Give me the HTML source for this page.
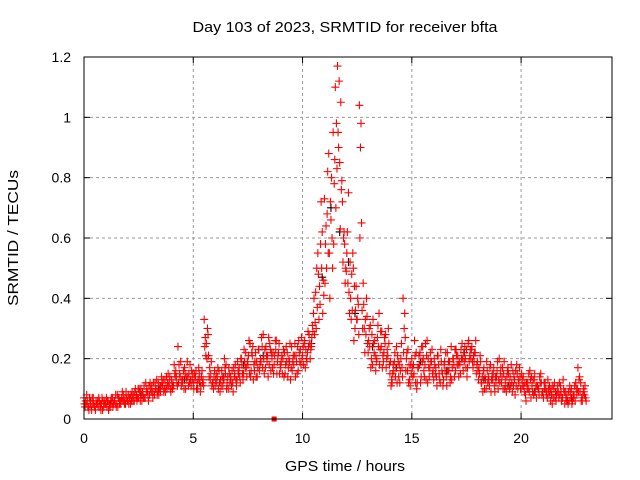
<!DOCTYPE html>
<html><head><meta charset="utf-8"><style>
html,body{margin:0;padding:0;background:#fff;}
svg{display:block;font-family:"Liberation Sans",sans-serif;}
</style></head><body>
<svg id="chart" width="640" height="480" viewBox="0 0 640 480" xmlns="http://www.w3.org/2000/svg">
<text x="345" y="32" font-size="15" text-anchor="middle" textLength="305" lengthAdjust="spacingAndGlyphs">Day 103 of 2023, SRMTID for receiver bfta</text>
<text transform="translate(18,238) rotate(-90)" font-size="15" text-anchor="middle" textLength="136" lengthAdjust="spacingAndGlyphs">SRMTID / TECUs</text>
<text x="345" y="471" font-size="15" text-anchor="middle" textLength="120" lengthAdjust="spacingAndGlyphs">GPS time / hours</text>
<g id="grid"></g>
<g id="marks"></g>
<rect x="84" y="57" width="528" height="362" fill="none" stroke="#000" stroke-width="1"/>
<g id="ticks"></g>
</svg>
<script>
const xTicks=[0,5,10,15,20];
const yTicks=[0,0.2,0.4,0.6,0.8,1,1.2];
const yTickLabels=["0","0.2","0.4","0.6","0.8","1","1.2"];
const times=[];
const ra=[.07,.05,.04,.06,.05,.04,.05,.06,.05,.04,
.05,.06,.04,.07,.06,.05,.07,.06,.08,.05,
.06,.07,.09,.06,.08,.07,.10,.08,.07,.09,
.08,.11,.09,.10,.12,.09,.11,.13,.10,.12,
.13,.11,.16,.24,.14,.12,.17,.13,.15,.11,
.12,.14,.10,.13,.16,.33,.25,.21,.15,.12,
.11,.14,.12,.16,.13,.18,.10,.14,.12,.15,
.13,.17,.20,.15,.22,.18,.25,.21,.16,.19,
.23,.19,.28,.17,.21,.25,.20,.18,.26,.22,
.17,.20,.15,.22,.19,.24,.18,.21,.16,.23,
.21,.26,.19,.28,.24,.35,.42,.55,.38,.62,
.73,.50,.88,.66,.95,1.10,1.17,.85,.79,.62,
.49,.75,.40,.55,.30,.33,1.04,.65,.38,.28,
.22,.31,.18,.26,.20,.35,.24,.19,.28,.21,
.15,.12,.19,.24,.14,.20,.40,.27,.16,.13,
.20,.15,.22,.17,.12,.24,.18,.26,.14,.19,
.13,.17,.21,.12,.15,.19,.11,.16,.24,.20,
.16,.21,.18,.25,.19,.23,.26,.20,.17,.22,
.19,.15,.12,.17,.10,.14,.18,.13,.09,.16,
.20,.12,.15,.11,.17,.14,.09,.13,.18,.12,
.10,.14,.08,.12,.16,.11,.13,.07,.10,.15,
.09,.12,.07,.11,.08,.10,.06,.09,.11,.07,
.05,.08,.06,.10,.07,.12,.17,.09,.06,.08];
const rb=[.04,.06,.07,.03,.05,.06,.04,.05,.03,.06,
.04,.05,.07,.05,.08,.04,.06,.09,.05,.07,
.05,.08,.06,.10,.07,.09,.06,.11,.09,.06,
.10,.07,.12,.08,.10,.14,.09,.11,.15,.10,
.10,.15,.12,.18,.11,.16,.10,.14,.18,.13,
.15,.10,.17,.11,.13,.27,.30,.17,.11,.14,
.15,.10,.13,.11,.17,.12,.15,.11,.17,.13,
.16,.12,.15,.19,.14,.26,.16,.13,.22,.17,
.18,.24,.15,.21,.27,.16,.22,.26,.19,.15,
.21,.14,.24,.17,.13,.19,.25,.15,.22,.27,
.18,.23,.29,.20,.31,.28,.50,.33,.72,.46,
.58,.82,.40,.60,.78,.98,.90,1.05,.52,.45,
.62,.35,.48,.26,.44,.38,.90,.30,.22,.34,
.30,.20,.25,.16,.31,.23,.17,.27,.20,.25,
.11,.18,.14,.21,.12,.17,.30,.20,.12,.18,
.14,.21,.12,.18,.24,.16,.13,.20,.22,.15,
.18,.11,.15,.19,.13,.22,.16,.12,.17,.14,
.21,.14,.23,.16,.20,.17,.21,.24,.19,.15,
.13,.19,.09,.14,.16,.11,.13,.17,.12,.10,
.15,.17,.10,.14,.12,.18,.11,.16,.10,.14,
.13,.09,.12,.15,.07,.13,.09,.11,.14,.08,
.12,.08,.10,.06,.11,.07,.09,.12,.06,.10,
.07,.05,.09,.06,.11,.08,.13,.06,.10,.07];
const rc=[.05,.08,.03,.04,.07,.03,.06,.04,.07,.05,
.07,.03,.06,.04,.05,.08,.05,.07,.06,.09,
.08,.05,.07,.09,.06,.10,.08,.07,.12,.08,
.12,.09,.08,.13,.08,.11,.13,.09,.12,.14,
.11,.18,.14,.12,.19,.13,.15,.19,.12,.16,
.10,.16,.13,.09,.12,.24,.20,.14,.19,.10,
.13,.17,.09,.14,.20,.10,.17,.13,.09,.18,
.19,.14,.18,.23,.17,.21,.14,.24,.19,.14,
.16,.27,.20,.24,.14,.23,.17,.21,.15,.25,
.19,.23,.18,.14,.25,.16,.21,.19,.26,.18,
.24,.17,.22,.25,.27,.40,.30,.48,.58,.35,
.45,.68,.55,.80,.58,.70,.95,.63,.72,.58,
.55,.42,.33,.50,.36,.40,.60,.36,.30,.40,
.26,.17,.33,.21,.27,.18,.29,.22,.17,.30,
.19,.15,.22,.12,.18,.25,.22,.16,.23,.11,
.17,.26,.10,.21,.14,.20,.25,.12,.17,.23,
.20,.14,.18,.23,.11,.16,.22,.19,.13,.18,
.23,.18,.15,.20,.24,.14,.19,.23,.21,.26,
.16,.21,.14,.10,.19,.13,.09,.15,.14,.19,
.12,.14,.19,.09,.15,.11,.16,.08,.15,.17,
.15,.11,.06,.10,.13,.09,.15,.11,.08,.12,
.07,.10,.13,.09,.05,.12,.08,.07,.09,.13,
.09,.06,.11,.05,.08,.10,.09,.12,.08,.11];
const rd=[.06,.04,.05,.07,.04,.05,.07,.03,.06,.05,
.06,.04,.05,.06,.04,.07,.05,.06,.07,.06,
.07,.06,.08,.07,.10,.06,.09,.07,.10,.11,
.09,.12,.10,.09,.11,.12,.10,.14,.11,.09,
.12,.14,.11,.15,.13,.10,.14,.11,.13,.15,
.13,.12,.15,.14,.11,.21,.28,.13,.12,.16,
.12,.16,.11,.13,.15,.14,.12,.16,.14,.11,
.15,.20,.13,.17,.19,.15,.22,.18,.14,.23,
.20,.17,.23,.19,.18,.22,.15,.23,.21,.18,
.15,.22,.19,.20,.17,.21,.14,.24,.19,.20,
.25,.20,.24,.23,.29,.32,.37,.44,.50,.41,
.64,.55,.72,.50,.86,.83,1.12,.76,.60,.50,
.45,.52,.36,.44,.33,.28,.98,.45,.33,.25,
.24,.28,.22,.19,.24,.29,.21,.25,.23,.18,
.13,.16,.17,.19,.16,.14,.35,.22,.18,.15,
.18,.12,.17,.22,.19,.14,.21,.17,.19,.16,
.15,.21,.13,.16,.18,.14,.19,.14,.20,.23,
.18,.19,.20,.22,.17,.25,.23,.19,.22,.18,
.17,.12,.16,.13,.12,.17,.15,.11,.14,.13,
.17,.10,.13,.16,.10,.12,.14,.11,.13,.10,
.11,.12,.10,.09,.14,.08,.11,.10,.12,.09,
.10,.09,.08,.10,.07,.09,.11,.08,.07,.09,
.06,.09,.07,.08,.06,.10,.14,.07,.09,.06];
const bkT=[0.3,1.2,2.6,3.4,4.6,5.3,6.4,7.3,8.2,9.4,10.4,10.9,11.3,11.7,12.1,12.4,13.2,14.3,15.4,16.6,17.4,18.3,19.4,20.6,21.4,22.3];
const bkV=[.06,.05,.08,.10,.13,.12,.14,.18,.21,.19,.25,.47,.70,.62,.52,.35,.24,.17,.19,.16,.22,.13,.11,.09,.08,.07];
for(let i=0;i<ra.length;i++)times.push(i/10);
const X=t=>84+t*(528/24.16);
const Y=v=>419-v*(362/1.2);
const NS="http://www.w3.org/2000/svg";
const grid=document.getElementById('grid'),ticks=document.getElementById('ticks'),marks=document.getElementById('marks');
function mk(tag,at,parent){const e=document.createElementNS(NS,tag);for(const k in at)e.setAttribute(k,at[k]);parent.appendChild(e);return e;}
xTicks.forEach(t=>{const x=X(t);
 if(t>0){const g=mk('line',{x1:x,x2:x,y1:57,y2:419,stroke:'#999','stroke-dasharray':'3,3'},grid);
 
 }
 mk('line',{x1:x,x2:x,y1:419,y2:413,stroke:'#000'},ticks);
 mk('line',{x1:x,x2:x,y1:57,y2:63,stroke:'#000'},ticks);
 const tx=mk('text',{x:x,y:443,'font-size':14,'text-anchor':'middle'},ticks);tx.textContent=t;
 
 });
yTicks.forEach((v,i)=>{const y=Y(v);
 if(v>0&&v<1.2){const g=mk('line',{x1:84,x2:612,y1:y,y2:y,stroke:'#999','stroke-dasharray':'3,3'},grid);
 
 }
 mk('line',{x1:84,x2:90,y1:y,y2:y,stroke:'#000'},ticks);
 mk('line',{x1:612,x2:606,y1:y,y2:y,stroke:'#000'},ticks);
 const tx=mk('text',{x:71,y:y+5,'font-size':14,'text-anchor':'end'},ticks);tx.textContent=yTickLabels[i];
 
 });
function plus(t,v,c){const x=X(t),y=Y(v);
 const p=mk('path',{d:`M${x-4},${y}h8M${x},${y-4}v8`,stroke:c,'stroke-width':1.1,fill:'none'},marks);
 
 }
bkT.forEach((t,i)=>plus(t,bkV[i],'#000'));
times.forEach((t,i)=>plus(t,ra[i],'#f00'));
times.forEach((t,i)=>plus(t+0.05,rb[i],'#f00'));
times.forEach((t,i)=>plus(t+0.025,rc[i],'#f00'));
times.forEach((t,i)=>plus(t+0.075,rd[i],'#f00'));
const sq=mk('rect',{x:X(8.7)-2.5,y:416.5,width:5,height:5,fill:'#f00'},marks);


</script>
</body></html>
